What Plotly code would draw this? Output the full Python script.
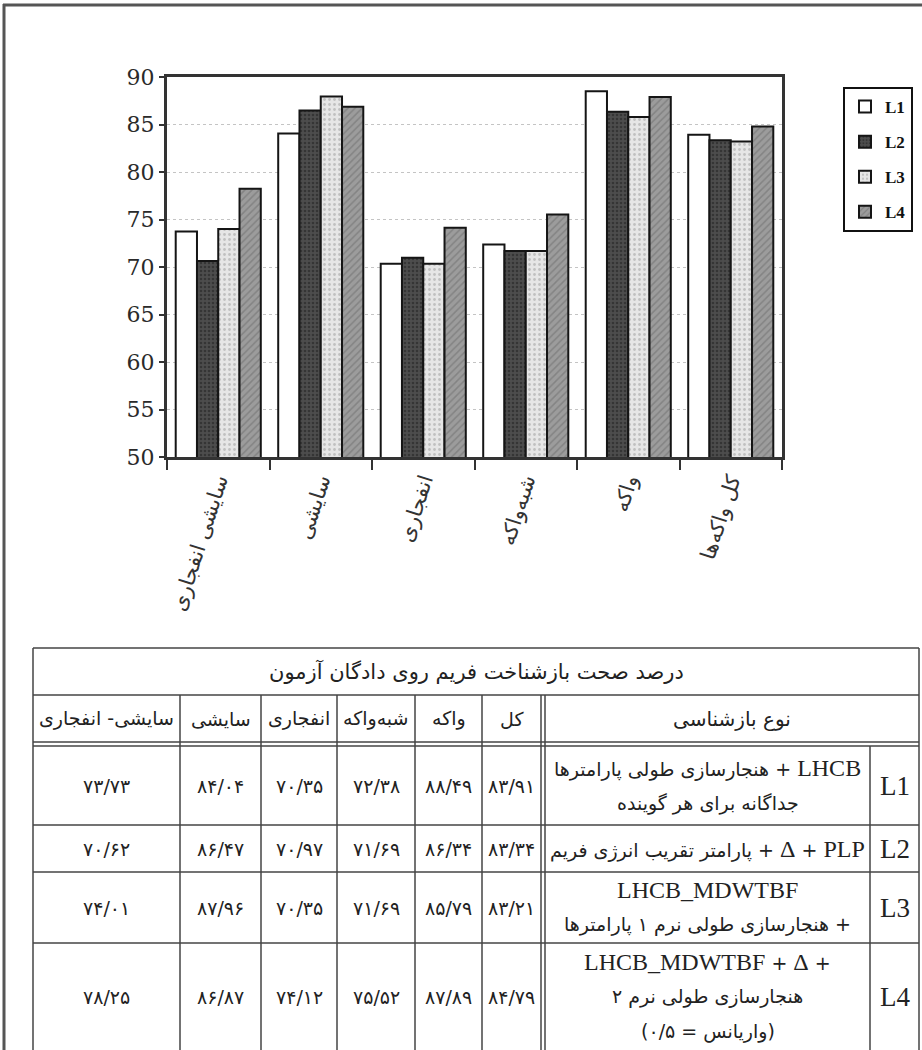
import re
import plotly.graph_objects as go

# ---- data -------------------------------------------------------------
categories = ["سایشی انفجاری", "سایشی", "انفجاری", "شبه‌واکه", "واکه", "کل واکه‌ها"]
series_names = ["L1", "L2", "L3", "L4"]
L1 = [73.73, 84.04, 70.35, 72.38, 88.49, 83.91]
L2 = [70.62, 86.47, 70.97, 71.69, 86.34, 83.34]
L3 = [74.01, 87.96, 70.35, 71.69, 85.79, 83.21]
L4 = [78.25, 86.87, 74.12, 75.52, 87.89, 84.79]
y_ticks = [50, 55, 60, 65, 70, 75, 80, 85, 90]

table_title = "درصد صحت بازشناخت فریم روی دادگان آزمون"
table_cols = ["سایشی- انفجاری", "سایشی", "انفجاری", "شبه‌واکه", "واکه", "کل"]
method_header = "نوع بازشناسی"
method_desc = [
    ["هنجارسازی طولی پارامترها + LHCB", "جداگانه برای هر گوینده"],
    ["پارامتر تقریب انرژی فریم + Δ + PLP"],
    ["LHCB_MDWTBF", "هنجارسازی طولی نرم ۱ پارامترها +"],
    ["LHCB_MDWTBF + Δ +", "هنجارسازی طولی نرم ۲", "(واریانس = ۰/۵)"],
]

# ---- styling ------------------------------------------------------------
FA_FONT = "DejaVu Sans"
SERIF = "Liberation Serif"
INK = "#222222"

bar_styles = [
    dict(color="white", pattern=None),
    dict(color="#4d4d4d", pattern=dict(shape=".", fgcolor="#1e1e1e", size=4, solidity=0.35)),
    dict(color="#e6e6e6", pattern=dict(shape=".", fgcolor="#9a9a9a", size=5, solidity=0.25)),
    dict(color="#9c9c9c", pattern=dict(shape="/", fgcolor="#6a6a6a", size=5, solidity=0.3)),
]

W, H = 922, 1050
PL, PR, PT, PB = 167, 782, 77, 457   # plot-area edges in page pixels


def fx(px):
    return (px - PL) / (PR - PL)


def fy(py):
    return (PB - py) / (PB - PT)


FA_DIGITS = str.maketrans("0123456789", "۰۱۲۳۴۵۶۷۸۹")


def fa_num(v):
    return f"{v:.2f}".replace(".", "/").translate(FA_DIGITS)


def latin_serif(text, size):
    return re.sub(
        r"[A-Za-z_Δ]+",
        lambda m: f'<span style="font-family:{SERIF};font-size:{size}px">{m.group(0)}</span>',
        text,
    )


fig = go.Figure()
for name, vals, st in zip(series_names, [L1, L2, L3, L4], bar_styles):
    marker = dict(color=st["color"], line=dict(color="#151515", width=2))
    if st["pattern"]:
        marker["pattern"] = st["pattern"]
    fig.add_trace(go.Bar(x=categories, y=vals, name=name, marker=marker,
                         legendgroup=name))

fig.update_layout(
    width=W, height=H,
    margin=dict(l=PL, r=W - PR, t=PT, b=H - PB, autoexpand=False),
    paper_bgcolor="white", plot_bgcolor="white",
    barmode="group", bargap=0.17, bargroupgap=0.0,
    showlegend=True,
    legend=dict(
        x=fx(843), y=fy(87), xanchor="left", yanchor="top",
        bgcolor="white", bordercolor="#111", borderwidth=2,
        font=dict(family=SERIF, size=17, color="#111", weight="bold"),
        tracegroupgap=10, itemwidth=30,
    ),
    xaxis=dict(
        type="category", showline=True, linecolor="#333", linewidth=3, mirror=True,
        ticks="outside", ticklen=10, tickwidth=2, tickcolor="#333",
        tickson="boundaries", tickangle=-72,
        tickfont=dict(family=FA_FONT, size=21, color="#333"),
        showgrid=False, automargin=False,
    ),
    yaxis=dict(
        range=[50, 90], tickvals=y_ticks,
        showline=True, linecolor="#333", linewidth=3, mirror=True,
        ticks="outside", ticklen=5, tickwidth=2, tickcolor="#333",
        tickfont=dict(family="DejaVu Serif", size=22, color="#2a2a2a"),
        showgrid=True, gridcolor="#c4c4c4", gridwidth=1, griddash="dot",
        zeroline=False, automargin=False,
    ),
)

shapes = []


def hline(x0, x1, y, w=1.5, c="#444"):
    shapes.append(dict(type="line", xref="paper", yref="paper",
                       x0=fx(x0), x1=fx(x1), y0=fy(y), y1=fy(y),
                       line=dict(color=c, width=w)))


def vline(x, y0, y1, w=1.5, c="#444"):
    shapes.append(dict(type="line", xref="paper", yref="paper",
                       x0=fx(x), x1=fx(x), y0=fy(y0), y1=fy(y1),
                       line=dict(color=c, width=w)))


# page frame
hline(3, W, 5, w=3, c="#555")
vline(4, 4, H, w=3, c="#555")

# table grid
T_L, T_R, T_TOP = 33, 919, 648
title_bottom, head_bottom = 695, 742
row_edges = [746, 825, 872, 943, H]
col_edges = [33, 180, 261, 337, 415, 482, 541]
desc_left, label_left = 545, 870

hline(T_L, T_R, T_TOP)
hline(T_L, T_R, title_bottom)
hline(T_L, T_R, head_bottom)
for y in row_edges[:-1]:
    hline(T_L, T_R, y)
vline(T_L, T_TOP, H)
vline(T_R, T_TOP, H)
for x in col_edges[1:]:
    vline(x, title_bottom, H)
vline(desc_left, title_bottom, H)
vline(label_left, row_edges[0], H)

fig.update_layout(shapes=shapes)

ann = []


def text(px, py, s, size=18, family=FA_FONT, color=INK):
    ann.append(dict(xref="paper", yref="paper", x=fx(px), y=fy(py), text=s,
                    showarrow=False, xanchor="center", yanchor="middle",
                    font=dict(family=family, size=size, color=color)))


text((T_L + T_R) / 2, (T_TOP + title_bottom) / 2, table_title, size=21)
for i, c in enumerate(table_cols):
    text((col_edges[i] + col_edges[i + 1]) / 2, (title_bottom + head_bottom) / 2, c, size=19)
text((desc_left + T_R) / 2, (title_bottom + head_bottom) / 2, method_header, size=20)

LINE_STEP = 35
for r, (name, vals, lines) in enumerate(zip(series_names, [L1, L2, L3, L4], method_desc)):
    cy = (row_edges[r] + row_edges[r + 1]) / 2
    for i, v in enumerate(vals):
        text((col_edges[i] + col_edges[i + 1]) / 2, cy, fa_num(v), size=19)
    n = len(lines)
    for k, ln in enumerate(lines):
        ly = cy + (k - (n - 1) / 2) * LINE_STEP
        text((desc_left + label_left) / 2, ly, latin_serif(ln, 24), size=19)
    text((label_left + T_R) / 2, cy, name, size=27, family=SERIF)

fig.update_layout(annotations=ann)

fig.write_html("out.html")
